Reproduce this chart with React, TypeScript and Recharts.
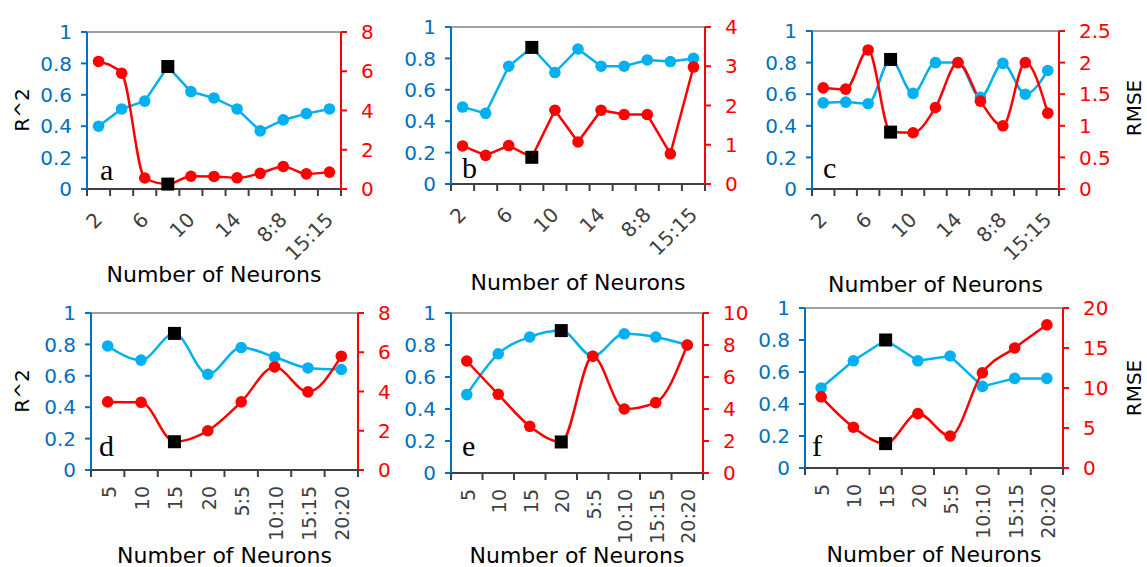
import React from "react";
import { LineChart, Line, XAxis, YAxis, ReferenceLine, Label } from "recharts";

// categories
const catsTop = ["2", "4", "6", "8", "10", "12", "14", "5:5", "8:8", "10:10", "15:15"];
const catsBottom = ["5", "10", "15", "20", "5:5", "10:10", "15:15", "20:20"];

// R^2 (left axis) and RMSE (right axis) per panel
const r2A = [0.4, 0.51, 0.56, 0.78, 0.62, 0.58, 0.51, 0.37, 0.44, 0.48, 0.51];
const rmseA = [6.5, 5.9, 0.56, 0.25, 0.65, 0.64, 0.57, 0.8, 1.15, 0.77, 0.86];
const r2B = [0.49, 0.45, 0.75, 0.87, 0.71, 0.86, 0.75, 0.75, 0.79, 0.78, 0.8];
const rmseB = [0.97, 0.73, 0.98, 0.68, 1.88, 1.07, 1.88, 1.77, 1.77, 0.77, 2.98];
const r2C = [0.545, 0.55, 0.54, 0.82, 0.605, 0.8, 0.8, 0.58, 0.795, 0.6, 0.75];
const rmseC = [1.6, 1.58, 2.2, 0.9, 0.89, 1.29, 2.0, 1.39, 1.0, 2.0, 1.2];
const r2D = [0.79, 0.7, 0.87, 0.61, 0.78, 0.72, 0.65, 0.64];
const rmseD = [3.47, 3.45, 1.44, 2.0, 3.47, 5.25, 3.98, 5.8];
const r2E = [0.49, 0.745, 0.85, 0.89, 0.73, 0.87, 0.85, 0.8];
const rmseE = [7.0, 4.92, 2.92, 1.94, 7.3, 4.0, 4.4, 8.0];
const r2F = [0.5, 0.67, 0.8, 0.67, 0.7, 0.51, 0.56, 0.56];
const rmseF = [8.9, 5.1, 3.05, 6.8, 4.0, 11.9, 15.0, 17.9];

// tick values
const r2Ticks = [0, 0.2, 0.4, 0.6, 0.8, 1];
const rmseTicksA = [0, 2, 4, 6, 8];
const rmseTicksB = [0, 1, 2, 3, 4];
const rmseTicksC = [0, 0.5, 1, 1.5, 2, 2.5];
const rmseTicksD = [0, 2, 4, 6, 8];
const rmseTicksE = [0, 2, 4, 6, 8, 10];
const rmseTicksF = [0, 5, 10, 15, 20];

const BLUE = "#00B0F0";
const BLUE_TEXT = "#0070C0";
const RED = "#FF0000";
const FONT = "DejaVu Sans";

type PanelCfg = {
  cats: string[];
  r2: number[];
  rmse: number[];
  rTicks: number[];
  best: number;
  blueCurve: "linear" | "monotone";
  redCurve: "linear" | "monotone";
  rotate: number;
  // layout
  x: number;
  y: number;
  w: number;
  h: number;
  titleY: number;
};

const panels: PanelCfg[] = [
  { cats: catsTop, r2: r2A, rmse: rmseA, rTicks: rmseTicksA, best: 3, blueCurve: "linear", redCurve: "monotone", rotate: -45, x: 87, y: 32, w: 254, h: 157, titleY: 282 },
  { cats: catsTop, r2: r2B, rmse: rmseB, rTicks: rmseTicksB, best: 3, blueCurve: "linear", redCurve: "linear", rotate: -45, x: 451, y: 27, w: 254, h: 157, titleY: 290 },
  { cats: catsTop, r2: r2C, rmse: rmseC, rTicks: rmseTicksC, best: 3, blueCurve: "monotone", redCurve: "monotone", rotate: -45, x: 812, y: 31, w: 247, h: 158, titleY: 292 },
  { cats: catsBottom, r2: r2D, rmse: rmseD, rTicks: rmseTicksD, best: 2, blueCurve: "monotone", redCurve: "monotone", rotate: -90, x: 91, y: 313, w: 267, h: 157, titleY: 563 },
  { cats: catsBottom, r2: r2E, rmse: rmseE, rTicks: rmseTicksE, best: 3, blueCurve: "monotone", redCurve: "monotone", rotate: -90, x: 451, y: 313, w: 252, h: 160, titleY: 563 },
  { cats: catsBottom, r2: r2F, rmse: rmseF, rTicks: rmseTicksF, best: 2, blueCurve: "linear", redCurve: "monotone", rotate: -90, x: 805, y: 308, w: 258, h: 160, titleY: 562 },
];

const makeDot = (color: string, best: number) => (props: any) => {
  const { cx, cy, index } = props;
  if (cx == null || cy == null) return <g key={`n${index}`} />;
  if (index === best) {
    return <rect key={`s${index}`} x={cx - 6.5} y={cy - 6.5} width={13} height={13} fill="#000" />;
  }
  return <circle key={`c${index}`} cx={cx} cy={cy} r={5.8} fill={color} />;
};

const makeTick = (p: PanelCfg) => (props: any) => {
  const { x, y, payload, index } = props;
  const n = p.cats.length;
  const bw = p.w / n;
  const diag = p.rotate === -45;
  const showLabel = !diag || index % 2 === 0;
  let label = null;
  if (showLabel) {
    const lx = diag ? x + 5 : x + 8;
    const ly = diag ? y + 32 : y + 16;
    label = (
      <text x={lx} y={ly} textAnchor="end" fill="#404040" fontSize={diag ? 20 : 19} fontFamily={FONT} transform={`rotate(${p.rotate}, ${lx}, ${ly})`}>
        {payload.value}
      </text>
    );
  }
  return (
    <g>
      <line x1={x - bw / 2} y1={y} x2={x - bw / 2} y2={y + 7} stroke="#404040" strokeWidth={2} />
      {index === n - 1 && <line x1={x + bw / 2} y1={y} x2={x + bw / 2} y2={y + 7} stroke="#404040" strokeWidth={2} />}
      {label}
    </g>
  );
};

function Panel({ p }: { p: PanelCfg }) {
  const leftW = 80;
  const rightW = 80;
  const top = 14;
  const xAxisH = p.titleY - (p.y + p.h);
  const bw = p.w / p.cats.length;
  const rows = p.cats.map((c, i) => ({ cat: c, r2: p.r2[i], rmse: p.rmse[i] }));
  const rMax = p.rTicks[p.rTicks.length - 1];
  return (
    <div style={{ position: "absolute", left: p.x - leftW, top: p.y - top }}>
      <LineChart width={leftW + p.w + rightW} height={top + p.h + xAxisH + 6} data={rows} margin={{ top, right: 0, bottom: 6, left: 0 }}>
        <XAxis dataKey="cat" height={xAxisH} interval={0} padding={{ left: bw / 2, right: bw / 2 }} tick={makeTick(p)} tickLine={false} tickSize={0} tickMargin={0} stroke="#404040" strokeWidth={2}>
          <Label value="Number of Neurons" position="insideBottom" offset={0} fill="#000" fontSize={22} fontFamily={FONT} />
        </XAxis>
        <YAxis yAxisId="l" width={leftW} domain={[0, 1]} ticks={r2Ticks} interval={0} stroke={BLUE_TEXT} strokeWidth={2} tickSize={6} tickMargin={9} tick={{ fill: BLUE_TEXT, fontSize: 20, fontFamily: FONT }} />
        <YAxis yAxisId="r" orientation="right" width={rightW} domain={[0, rMax]} ticks={p.rTicks} interval={0} stroke={RED} strokeWidth={2} tickSize={6} tickMargin={14} tick={{ fill: RED, fontSize: 20, fontFamily: FONT, textAnchor: "start" }} />
        <ReferenceLine yAxisId="l" y={1} stroke="#7F7F7F" strokeWidth={1.5} />
        <Line yAxisId="l" dataKey="r2" type={p.blueCurve} stroke={BLUE} strokeWidth={2.5} dot={makeDot(BLUE, p.best)} activeDot={false} isAnimationActive={false} />
        <Line yAxisId="r" dataKey="rmse" type={p.redCurve} stroke={RED} strokeWidth={2.5} dot={makeDot(RED, p.best)} activeDot={false} isAnimationActive={false} />
      </LineChart>
    </div>
  );
}

export default function App() {
  return (
    <div style={{ position: "absolute", left: 0, top: 0, width: 1147, height: 567, background: "#fff", overflow: "hidden" }}>
      {panels.map((p, i) => (
        <Panel key={i} p={p} />
      ))}
      <svg width={1147} height={567} style={{ position: "absolute", left: 0, top: 0, pointerEvents: "none" }}>
        <g fontFamily="Liberation Serif" fontSize={30} fill="#000">
          <text x={100} y={180}>a</text>
          <text x={462} y={178}>b</text>
          <text x={823} y={178}>c</text>
          <text x={99} y={456}>d</text>
          <text x={462} y={456}>e</text>
          <text x={812} y={456}>f</text>
        </g>
        <g fontFamily={FONT} fontSize={20} fill="#000" textAnchor="middle" dominantBaseline="central">
          <text x={22} y={110} transform="rotate(-90, 22, 110)">R^2</text>
          <text x={22} y={391} transform="rotate(-90, 22, 391)">R^2</text>
          <text x={1134} y={108} transform="rotate(-90, 1134, 108)">RMSE</text>
          <text x={1134} y={388} transform="rotate(-90, 1134, 388)">RMSE</text>
        </g>
      </svg>
    </div>
  );
}
